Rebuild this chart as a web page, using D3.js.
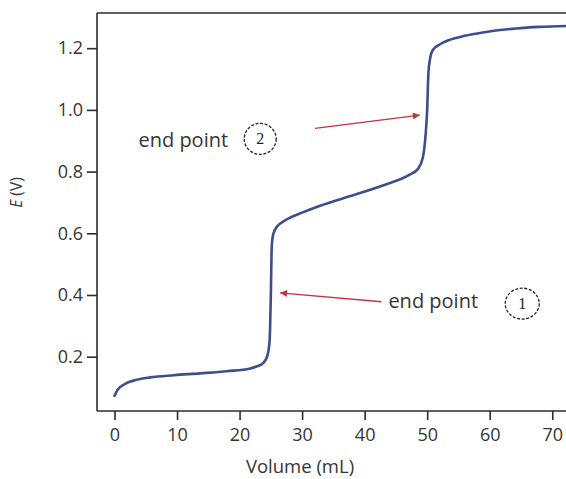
<!DOCTYPE html>
<html>
<head>
<meta charset="utf-8">
<script src="https://cdn.jsdelivr.net/npm/d3@7"></script>
<style>
  html, body { margin: 0; padding: 0; background: #fff; }
  svg { display: block; }
</style>
</head>
<body>
<svg id="chart" width="566" height="479"></svg>
<script>
// ---- data ----
const volume = [0, 0.5, 1.7, 3.5, 5.7, 9.5, 13.7, 18, 21.7, 22.7, 23.8, 24.4, 24.8, 25.0, 25.15, 25.4, 26.0, 26.9, 28, 30, 33, 37.6, 42.9, 47.2, 48.5, 49.3, 49.75, 50.0, 50.2, 50.5, 50.9, 52, 53.6, 56, 58.9, 64.2, 68, 72.5];
const potential = [0.073, 0.093, 0.112, 0.125, 0.133, 0.140, 0.146, 0.153, 0.162, 0.168, 0.180, 0.200, 0.250, 0.400, 0.560, 0.598, 0.622, 0.637, 0.650, 0.667, 0.690, 0.720, 0.755, 0.790, 0.808, 0.845, 0.920, 1.000, 1.120, 1.170, 1.194, 1.212, 1.227, 1.240, 1.251, 1.264, 1.269, 1.272];
const xTicks = [0, 10, 20, 30, 40, 50, 60, 70];
const yTicks = [0.2, 0.4, 0.6, 0.8, 1.0, 1.2];
const xTitle = "Volume (mL)";
const yTitleItalic = "E";
const yTitleRest = " (V)";
const annotLabels = ["end point", "end point"];
const annotNumbers = ["1", "2"];
// annotation anchors in data units: [volume, potential]
const annotTextPos = [[43.8, 0.357], [3.83, 0.881]];
const annotCirclePos = [[65.2, 0.372], [23.3, 0.906]];
const arrowFrom = [[42.7, 0.378], [32.06, 0.940]];
const arrowTo = [[26.47, 0.407], [48.83, 0.983]];

// ---- chart ----
(function () {
const svg = d3.select("#chart");
const mL = 97, mR = 566, mT = 13, mB = 411;
const x = d3.scaleLinear().domain([-2.8, 72.2]).range([mL, mR]);
const y = d3.scaleLinear().domain([0.024, 1.314]).range([mB, mT]);

const axisColor = "#2b2b2b";
const textColor = "#353535";
const font = "'Open Sans', 'DejaVu Sans', sans-serif";

// top border
svg.append("line")
  .attr("x1", mL).attr("x2", mR + 5)
  .attr("y1", mT).attr("y2", mT)
  .attr("stroke", axisColor).attr("stroke-width", 1.6);

// x axis
const gx = svg.append("g")
  .attr("transform", `translate(0,${mB})`)
  .call(d3.axisBottom(x).tickValues(xTicks).tickFormat(d3.format("d")).tickSizeOuter(0).tickSize(9).tickPadding(8));
gx.select(".domain").attr("d", `M${mL},0H${mR + 5}`).attr("stroke", axisColor).attr("stroke-width", 1.6);
gx.selectAll(".tick line").attr("stroke", axisColor).attr("stroke-width", 1.6);
gx.selectAll(".tick text").attr("fill", textColor).style("font-family", font).style("font-size", "18px");

// y axis
const gy = svg.append("g")
  .attr("transform", `translate(${mL},0)`)
  .call(d3.axisLeft(y).tickValues(yTicks).tickFormat(d3.format(".1f")).tickSizeOuter(0).tickSize(10).tickPadding(4));
gy.select(".domain").attr("d", `M0,${mT}V${mB}`).attr("stroke", axisColor).attr("stroke-width", 1.6);
gy.selectAll(".tick line").attr("stroke", axisColor).attr("stroke-width", 1.6);
gy.selectAll(".tick text").attr("fill", textColor).style("font-family", font).style("font-size", "18px");

// axis titles
svg.append("text")
  .attr("x", 300).attr("y", 473)
  .attr("text-anchor", "middle")
  .attr("fill", textColor)
  .style("font-family", font).style("font-size", "18.5px")
  .text(xTitle);

const yt = svg.append("text")
  .attr("transform", "translate(22,192.5) rotate(-90)")
  .attr("text-anchor", "middle")
  .attr("fill", textColor)
  .style("font-family", font).style("font-size", "15.5px");
yt.append("tspan").style("font-style", "italic").text(yTitleItalic);
yt.append("tspan").text(yTitleRest);

// curve
const data = volume.map((v, i) => [v, potential[i]]);
svg.append("path")
  .datum(data)
  .attr("fill", "none")
  .attr("stroke", "#3f4d8c")
  .attr("stroke-width", 2.6)
  .attr("stroke-linejoin", "round")
  .attr("stroke-linecap", "round")
  .attr("d", d3.line().x(d => x(d[0])).y(d => y(d[1])).curve(d3.curveMonotoneX));

// arrows
const red = "#c4323c";
svg.append("defs").append("marker")
  .attr("id", "arrowhead")
  .attr("viewBox", "0 0 10 10")
  .attr("refX", 10).attr("refY", 5)
  .attr("markerWidth", 10).attr("markerHeight", 7)
  .attr("markerUnits", "userSpaceOnUse")
  .attr("orient", "auto")
  .append("path").attr("d", "M0,0L10,5L0,10Z").attr("fill", red);

arrowFrom.forEach((f, i) => {
  const t = arrowTo[i];
  svg.append("line")
    .attr("x1", x(f[0])).attr("y1", y(f[1]))
    .attr("x2", x(t[0])).attr("y2", y(t[1]))
    .attr("stroke", red).attr("stroke-width", 1.4)
    .attr("marker-end", "url(#arrowhead)");
});

// annotation labels
annotLabels.forEach((lab, i) => {
  svg.append("text")
    .attr("x", x(annotTextPos[i][0])).attr("y", y(annotTextPos[i][1]))
    .attr("fill", textColor)
    .style("font-family", font).style("font-size", "20px")
    .text(lab);
  const c = annotCirclePos[i];
  svg.append("ellipse")
    .attr("cx", x(c[0])).attr("cy", y(c[1]))
    .attr("rx", i === 0 ? 17 : 16).attr("ry", 15.5)
    .attr("fill", "none").attr("stroke", "#222")
    .attr("stroke-width", 1.3).attr("stroke-dasharray", "3,1.6");
  svg.append("text")
    .attr("x", x(c[0])).attr("y", y(c[1]))
    .attr("dy", "0.35em")
    .attr("text-anchor", "middle")
    .attr("fill", "#222")
    .style("font-family", "'Liberation Serif', 'DejaVu Serif', serif")
    .style("font-size", "16px")
    .text(annotNumbers[i]);
});
})();
</script>
</body>
</html>
